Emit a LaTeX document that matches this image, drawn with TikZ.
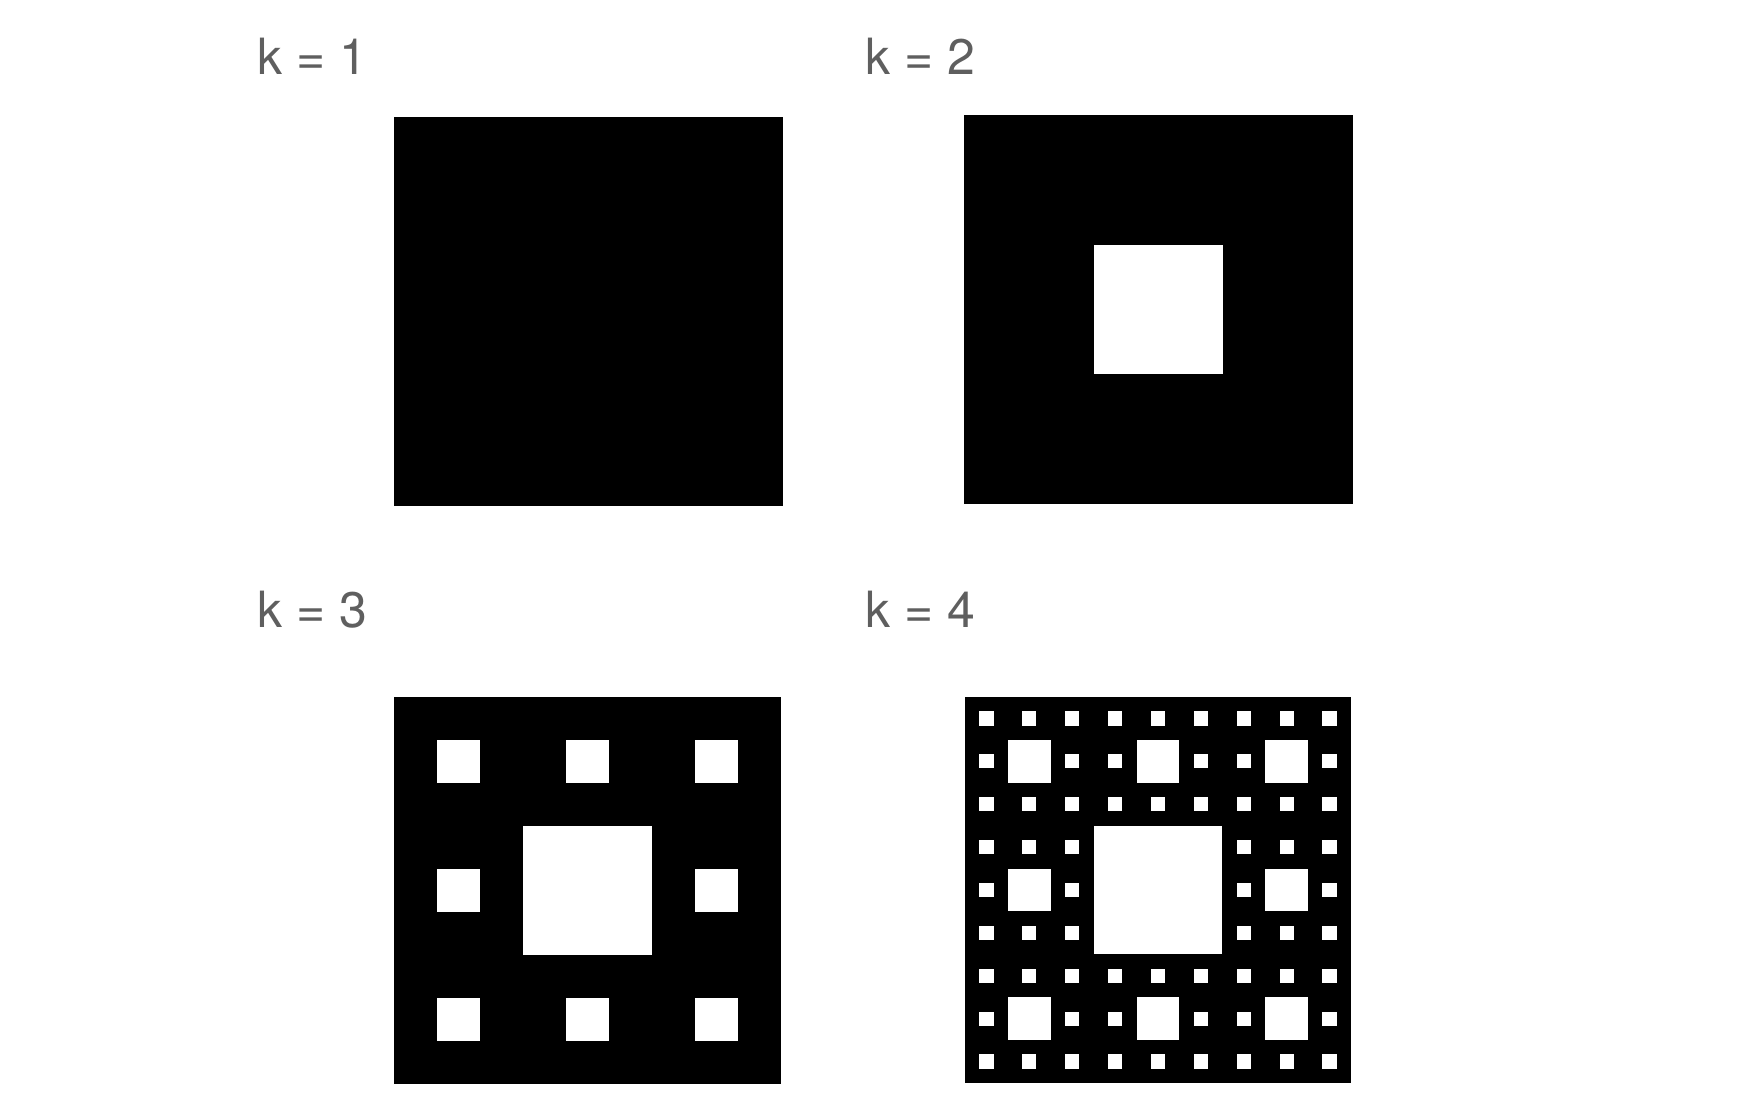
\documentclass[tikz,border=0pt]{standalone}
\usepackage{fontspec}
\setmainfont{TeX Gyre Heros}
\usepackage{xcolor}
\usepackage{tikz}
\usetikzlibrary{positioning}

\definecolor{labgray}{RGB}{95,95,95}

% carpet: top-left x, top-left y, side, levels of holes
\newcommand{\carpet}[4]{%
  \fill[black] (#1,#2) rectangle ++(#3,#3);
  \ifnum#4>0
  \foreach \l in {1,...,#4} {
    \pgfmathtruncatemacro{\n}{3^(\l-1)-1}
    \pgfmathsetmacro{\h}{#3/3^\l}
    \foreach \i in {0,...,\n} \foreach \j in {0,...,\n}
      \fill[white] ({#1+(3*\i+1)*\h},{#2+(3*\j+1)*\h}) rectangle ++(\h,\h);
  }
  \fi
}

\begin{document}
\begin{tikzpicture}[x=0.01cm,y=-0.01cm,
  lb/.style={anchor=base west,inner sep=0pt,text=labgray,
    font=\fontsize{14.2pt}{17pt}\selectfont}
]
\useasboundingbox (0,0) rectangle (1744,1104);
% ---- top row ----
\node[lb] (lab1) at (257,75) {k = 1};
\carpet{394}{117}{389}{0}
\node[lb] (lab2) at (865,75) {k = 2};
\carpet{964}{115}{389}{1}
% ---- bottom row ----
\node[lb] (lab3) at (257,628) {k = 3};
\carpet{394}{697}{387}{2}
\node[lb] (lab4) at (865,628) {k = 4};
\carpet{965}{697}{386}{3}
\end{tikzpicture}
\end{document}
